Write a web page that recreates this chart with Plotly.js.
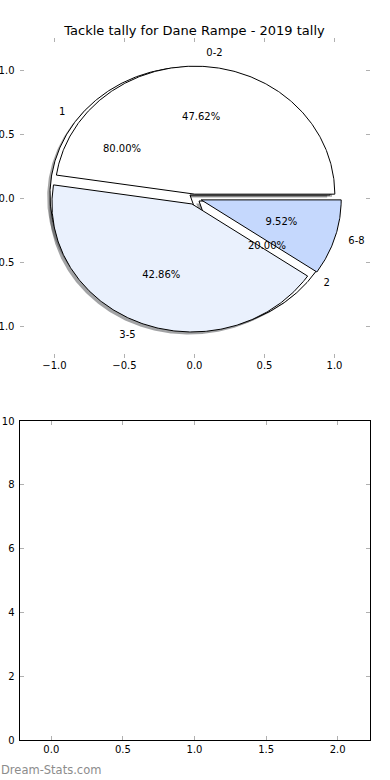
<!DOCTYPE html>
<html>
<head>
<meta charset="utf-8">
<script src="https://cdn.plot.ly/plotly-3.0.1.min.js"></script>
<style>html,body{margin:0;padding:0;background:#fff;}#chart{width:390px;height:780px;}</style>
</head>
<body>
<div id="chart"></div>
<script>
// ---- data ----
const titleText = 'Tackle tally for Dane Rampe - 2019 tally';
const outerLabels = ['0-2', '3-5', '6-8'];
const outerValues = [10, 9, 2];
const innerLabels = ['1', '2'];
const innerValues = [4, 1];
const pieTicks = [-1.0, -0.5, 0.0, 0.5, 1.0];
const emptyXTicks = [0.0, 0.5, 1.0, 1.5, 2.0];
const emptyYTicks = [0, 2, 4, 6, 8, 10];
const watermark = 'Dream-Stats.com';

// ---- styles ----
const outerColors = ['#ffffff', '#eaf1fd', '#c5d8fd'];
const innerColors = ['#ffffff', '#ffffff'];
const outerExplode = [0.03, 0.05, 0.05];
const innerExplode = [0.04, 0.04];
const SHADOW = -0.02;
const FONT = 'DejaVu Sans';

function shadowColor(hex) {
  const r = parseInt(hex.slice(1, 3), 16), g = parseInt(hex.slice(3, 5), 16), b = parseInt(hex.slice(5, 7), 16);
  return 'rgba(' + Math.round(0.3 * r) + ',' + Math.round(0.3 * g) + ',' + Math.round(0.3 * b) + ',0.5)';
}

function buildWedges(labels, values, explode, colors) {
  const total = values.reduce((a, b) => a + b, 0);
  let start = 0;
  return values.map((v, i) => {
    const t1 = start, t2 = start + 360 * v / total;
    start = t2;
    const mid = (t1 + t2) / 2 * Math.PI / 180;
    const cx = explode[i] * Math.cos(mid), cy = explode[i] * Math.sin(mid);
    const xs = [cx], ys = [cy];
    const steps = Math.max(4, Math.ceil(t2 - t1) * 2);
    for (let k = 0; k <= steps; k++) {
      const a = (t1 + (t2 - t1) * k / steps) * Math.PI / 180;
      xs.push(cx + Math.cos(a));
      ys.push(cy + Math.sin(a));
    }
    xs.push(cx); ys.push(cy);
    return {
      label: labels[i], pct: (100 * v / total).toFixed(2) + '%', xs, ys, color: colors[i],
      lx: cx + 1.1 * Math.cos(mid), ly: cy + 1.1 * Math.sin(mid),
      px: cx + 0.6 * Math.cos(mid), py: cy + 0.6 * Math.sin(mid)
    };
  });
}

const inner = buildWedges(innerLabels, innerValues, innerExplode, innerColors);
const outer = buildWedges(outerLabels, outerValues, outerExplode, outerColors);
const traces = [];

// shadows (below all wedges)
[...inner, ...outer].forEach(w => {
  traces.push({
    type: 'scatter', mode: 'lines', x: w.xs.map(x => x + SHADOW), y: w.ys.map(y => y + SHADOW),
    fill: 'toself', fillcolor: shadowColor(w.color), line: {width: 0, color: 'rgba(0,0,0,0)'},
    hoverinfo: 'skip', showlegend: false, xaxis: 'x', yaxis: 'y'
  });
});
// wedges: second pie first, first pie on top
[...inner, ...outer].forEach(w => {
  traces.push({
    type: 'scatter', mode: 'lines', x: w.xs, y: w.ys,
    fill: 'toself', fillcolor: w.color, line: {width: 1, color: '#000000'},
    hoverinfo: 'skip', showlegend: false, xaxis: 'x', yaxis: 'y'
  });
});
// texts
const allW = [...outer, ...inner];
traces.push({
  type: 'scatter', mode: 'text', x: allW.map(w => w.lx), y: allW.map(w => w.ly), text: allW.map(w => w.label),
  textposition: allW.map(w => w.lx > 0 ? 'middle right' : 'middle left'),
  textfont: {family: FONT, size: 10, color: '#000'}, hoverinfo: 'skip', showlegend: false, xaxis: 'x', yaxis: 'y'
});
traces.push({
  type: 'scatter', mode: 'text', x: allW.map(w => w.px), y: allW.map(w => w.py), text: allW.map(w => w.pct),
  textposition: 'middle center',
  textfont: {family: FONT, size: 10, color: '#000'}, hoverinfo: 'skip', showlegend: false, xaxis: 'x', yaxis: 'y'
});
// empty second axes
traces.push({type: 'scatter', mode: 'markers', x: [], y: [], xaxis: 'x2', yaxis: 'y2', showlegend: false, hoverinfo: 'skip'});

const tickCommon = {
  ticks: 'inside', ticklen: 4, tickwidth: 1, tickcolor: '#b0b0b0', showgrid: false, zeroline: false,
  tickfont: {family: FONT, size: 10, color: '#000'}, fixedrange: true
};
const XD = [19.5 / 390, 369.5 / 390];

const layout = {
  width: 390, height: 780, margin: {l: 0, r: 0, t: 0, b: 0},
  paper_bgcolor: '#fff', plot_bgcolor: 'rgba(0,0,0,0)',
  font: {family: FONT, size: 10, color: '#000'},
  showlegend: false,
  title: {text: titleText, font: {family: FONT, size: 13, color: '#000'}, x: 194.5 / 390, xanchor: 'center',
          y: 1 - 30 / 780, yanchor: 'middle', xref: 'paper', yref: 'container'},
  xaxis: Object.assign({}, tickCommon, {domain: XD, range: [-1.25, 1.25], tickvals: pieTicks, tickformat: '.1f',
          anchor: 'y', showline: false, mirror: 'ticks'}),
  yaxis: Object.assign({}, tickCommon, {domain: [1 - 358 / 780, 1 - 38 / 780], range: [-1.25, 1.25], tickvals: pieTicks,
          tickformat: '.1f', anchor: 'x', showline: false, mirror: 'ticks', ticklabelstandoff: 4}),
  xaxis2: Object.assign({}, tickCommon, {domain: XD, range: [-0.222, 2.222], tickvals: emptyXTicks, tickformat: '.1f',
          anchor: 'y2', showline: true, linecolor: '#000', linewidth: 1, mirror: 'ticks'}),
  yaxis2: Object.assign({}, tickCommon, {domain: [1 - 740 / 780, 1 - 421 / 780], range: [0, 10], tickvals: emptyYTicks,
          anchor: 'x2', showline: true, linecolor: '#000', linewidth: 1, mirror: 'ticks', ticklabelstandoff: 2}),
  annotations: [{
    text: watermark, xref: 'paper', yref: 'paper', x: -0.003, y: 1 - 770 / 780, xanchor: 'left', yanchor: 'middle',
    showarrow: false, font: {family: FONT, size: 11.5, color: '#8c8c8c'}
  }]
};

Plotly.newPlot('chart', traces, layout, {staticPlot: true, displayModeBar: false});
</script>
</body>
</html>
